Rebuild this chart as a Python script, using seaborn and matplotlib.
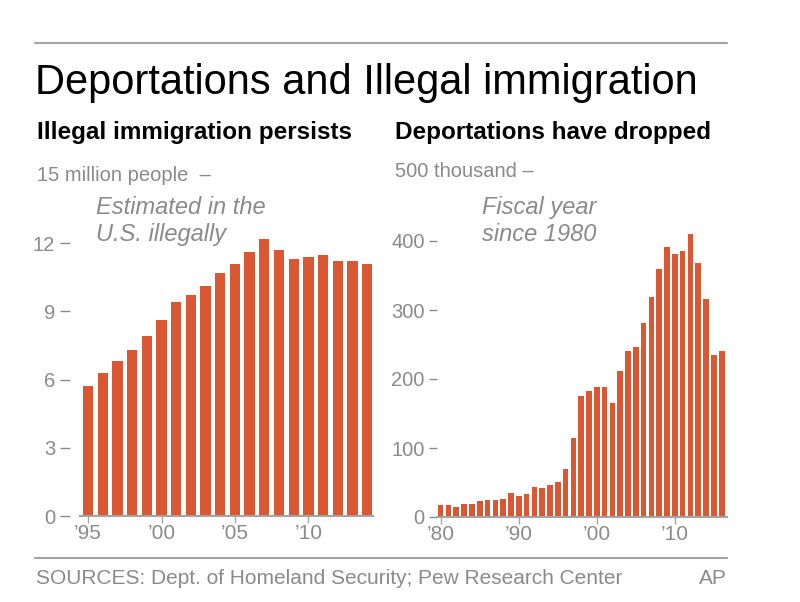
import matplotlib
matplotlib.use("Agg")
import matplotlib.pyplot as plt
from matplotlib.lines import Line2D
import seaborn as sns
import pandas as pd

# Pew estimates, millions of people in the U.S. illegally
illegal_years = list(range(1995, 2015))
illegal_millions = [5.7, 6.3, 6.8, 7.3, 7.9, 8.6, 9.4, 9.7, 10.1, 10.7,
                    11.1, 11.6, 12.2, 11.7, 11.3, 11.4, 11.5, 11.2, 11.2, 11.1]

# DHS removals by fiscal year, thousands
deport_years = list(range(1980, 2017))
deport_thousands = [18, 17.4, 15.2, 19.2, 18.7, 23.1, 24.6, 24.3, 25.8, 34.4,
                    30.0, 33.2, 43.7, 42.5, 45.7, 50.9, 69.7, 114.4, 174.8, 183.1,
                    188.5, 189.0, 165.2, 211.1, 240.7, 246.4, 281.0, 319.4, 359.8, 391.4,
                    381.7, 386.0, 409.8, 368.6, 315.9, 235.4, 240.3]

left_ticks = [0, 3, 6, 9, 12]
right_ticks = [0, 100, 200, 300, 400]
left_xticks = [1995, 2000, 2005, 2010]
left_xlabels = ["\u201995", "\u201900", "\u201905", "\u201910"]
right_xticks = [1980, 1990, 2000, 2010]
right_xlabels = ["\u201980", "\u201990", "\u201900", "\u201910"]

sns.set_theme(style="white")
plt.rcParams["font.family"] = ["Liberation Sans", "DejaVu Sans"]

bar_color = "#d95732"
gray = "#8a8a8a"
line_gray = "#a3a3a3"

W, H = 800, 602
fig = plt.figure(figsize=(8, 6.02), dpi=100)

def fx(px):
    return px / W

def fy(py):
    return 1 - py / H

ill = pd.DataFrame({"year": illegal_years, "value": illegal_millions})
dep = pd.DataFrame({"year": deport_years, "value": deport_thousands})

# left panel
ax1 = fig.add_axes([fx(80), fy(516), fx(373) - fx(80), fy(175) - fy(516)])
sns.barplot(data=ill, x="year", y="value", native_scale=True, color=bar_color,
            width=0.7, saturation=1, linewidth=0, ax=ax1)
ax1.set_xlim(1994.45, 2014.4)
ax1.set_ylim(0, 15)
ax1.set_yticks(left_ticks)
ax1.set_yticklabels([str(t) for t in left_ticks])
ax1.spines["left"].set_position(("outward", 7))
ax1.tick_params(axis="y", length=7, width=1, color=gray, labelcolor=gray,
                labelsize=14.5, pad=4, left=True)
ax1.set_xticks(left_xticks)
ax1.set_xticklabels(left_xlabels)
ax1.text(-0.147, 15, "15 million people  \u2013", transform=ax1.get_yaxis_transform(),
         ha="left", va="center", color=gray, fontsize=14.5)

# right panel
ax2 = fig.add_axes([fx(437), fy(517), fx(727) - fx(437), fy(172) - fy(517)])
sns.barplot(data=dep, x="year", y="value", native_scale=True, color=bar_color,
            width=0.72, saturation=1, linewidth=0, ax=ax2)
ax2.set_xlim(1979.53, 2016.68)
ax2.set_ylim(0, 500)
ax2.set_yticks(right_ticks)
ax2.set_yticklabels([str(t) for t in right_ticks])
ax2.tick_params(axis="y", length=6, width=1, color=gray, labelcolor=gray,
                labelsize=14.5, pad=3, left=True)
ax2.set_xticks(right_xticks)
ax2.set_xticklabels(right_xlabels)
ax2.text(-0.145, 500, "500 thousand \u2013", transform=ax2.get_yaxis_transform(),
         ha="left", va="center", color=gray, fontsize=14.5)

for ax in (ax1, ax2):
    ax.set_xlabel("")
    ax.set_ylabel("")
    ax.patch.set_alpha(0)
    for s in ("top", "right", "left"):
        ax.spines[s].set_visible(False)
    ax.spines["bottom"].set_color(line_gray)
    ax.spines["bottom"].set_linewidth(1.5)
    ax.tick_params(axis="x", length=5, width=1, color=line_gray, labelcolor=gray,
                   labelsize=15, pad=1, bottom=True)

# annotations
fig.text(fx(96), fy(196), "Estimated in the\nU.S. illegally", ha="left", va="top",
         style="italic", color=gray, fontsize=17, linespacing=1.2)
fig.text(fx(482), fy(196), "Fiscal year\nsince 1980", ha="left", va="top",
         style="italic", color=gray, fontsize=17, linespacing=1.2)

# headers
fig.add_artist(Line2D([fx(35), fx(727)], [fy(43), fy(43)], color=line_gray, lw=1.5))
fig.text(fx(35), fy(83), "Deportations and Illegal immigration", ha="left", va="center",
         color="black", fontsize=30)
fig.text(fx(37), fy(133), "Illegal immigration persists", ha="left", va="center",
         color="black", fontsize=17.5, fontweight="bold")
fig.text(fx(395), fy(133), "Deportations have dropped", ha="left", va="center",
         color="black", fontsize=17.5, fontweight="bold")

# footer
fig.add_artist(Line2D([fx(35), fx(727)], [fy(558), fy(558)], color=line_gray, lw=1.5))
fig.text(fx(36), fy(578), "SOURCES: Dept. of Homeland Security; Pew Research Center",
         ha="left", va="center", color=gray, fontsize=15)
fig.text(fx(727), fy(578), "AP", ha="right", va="center", color=gray, fontsize=15)

fig.savefig("out.png", dpi=100)
